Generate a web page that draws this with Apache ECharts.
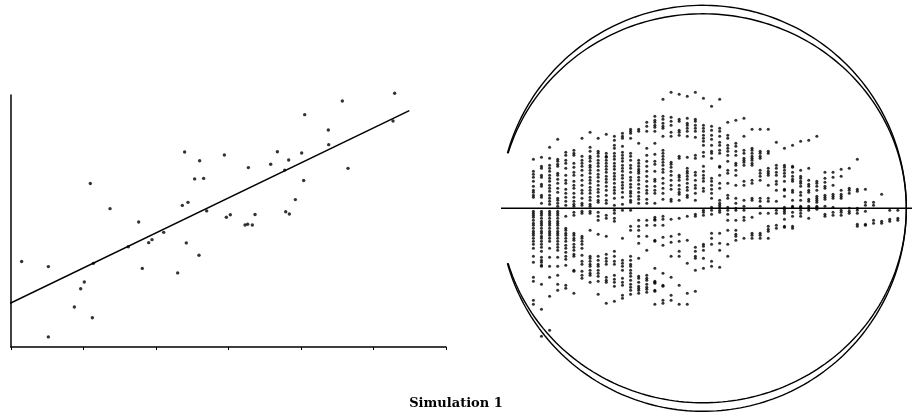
<!DOCTYPE html>
<html><head><meta charset="utf-8">
<script src="https://cdn.jsdelivr.net/npm/echarts@6/dist/echarts.min.js"></script>
<style>html,body{margin:0;padding:0;background:#fff}#c{width:912px;height:413px}</style>
</head><body><div id="c"></div>
<script>
// ---- Left panel: scatter with fitted line ----
const scatterX = [0.147,0.515,0.515,0.874,0.961,1.011,1.094,1.122,1.136,1.366,1.618,1.761,1.811,1.899,1.945,2.106,2.299,2.363,2.395,2.418,2.441,2.533,2.593,2.602,2.657,2.699,2.943,2.970,3.025,3.228,3.264,3.274,3.329,3.366,3.582,3.674,3.775,3.789,3.830,3.839,3.922,4.009,4.037,4.051,4.377,4.382,4.570,4.648,5.269,5.292];
const scatterY = [3.39,3.19,0.40,1.59,2.31,2.58,6.49,1.16,3.32,5.49,3.98,4.96,3.12,4.14,4.26,4.55,2.94,5.62,7.74,4.13,5.74,6.67,3.64,7.39,6.69,5.40,7.62,5.15,5.25,4.84,4.87,7.12,4.84,5.26,7.25,7.75,7.02,5.37,7.42,5.28,5.85,7.70,6.61,9.22,8.61,8.03,9.76,7.09,8.97,10.07];
const fitX = [-0.06, 5.494];
const fitY = [1.67, 9.38];
const xTicks = [0, 1, 2, 3, 4, 5, 6];

// ---- Right panel: columns of points (offset from the centre line) ----
const radialCols = [
[49,37,34,31,27,22,18,16,13,11,-3,-5,-7,-9,-12,-15,-17,-20,-23,-25,-27,-30,-33,-36,-40,-48,-54,-69,-73,-92,-96],
[51,42,40,33,31,24,22,13,11,5,-3,-5,-7,-10,-13,-15,-17,-20,-23,-25,-28,-30,-33,-36,-39,-43,-49,-52,-54,-57,-58,-76,-101,-128],
[61,50,43,40,37,33,30,27,23,20,17,13,10,7,4,-3,-5,-7,-10,-13,-15,-17,-20,-23,-25,-27,-30,-33,-40,-49,-58,-69,-88,-122],
[69,49,47,44,42,35,33,29,25,20,16,10,8,5,2,-3,-5,-7,-10,-13,-15,-17,-20,-23,-25,-27,-30,-33,-36,-39,-42,-49,-58,-67,-76,-82],
[56,53,48,45,40,33,28,25,19,15,11,7,3,-8,-20,-22,-25,-27,-30,-33,-37,-40,-44,-48,-51,-57,-77,-80],
[58,55,53,45,41,36,33,27,23,20,15,11,7,4,2,-4,-7,-25,-27,-30,-32,-36,-39,-42,-46,-48,-62,-63,-85],
[70,52,48,45,42,38,33,28,23,18,15,10,5,3,-3,-5,-28,-30,-33,-36,-40,-47,-53,-56,-63,-67,-70],
[76,61,57,52,50,47,43,41,38,35,31,28,25,21,18,15,11,8,4,2,-3,-5,-22,-48,-50,-53,-56,-58,-62,-65,-67,-74],
[70,57,55,52,48,45,42,38,34,31,27,23,19,16,12,8,6,-4,-8,-12,-26,-48,-52,-56,-58,-62,-65,-68,-73,-86],
[74,55,52,51,48,45,42,39,36,32,29,26,22,18,13,8,5,-7,-10,-28,-46,-50,-53,-56,-69,-72,-74,-95],
[72,68,63,60,55,52,49,45,42,39,35,32,29,25,21,18,15,10,3,-2,-5,-10,-13,-43,-48,-53,-56,-67,-71,-74,-78,-93],
[75,72,70,62,56,53,50,47,43,40,37,33,30,26,23,20,16,11,4,-2,-30,-52,-55,-58,-62,-70,-74,-77,-87,-90],
[79,77,75,70,55,52,48,43,40,36,31,28,24,21,17,15,12,8,6,-2,-18,-22,-48,-52,-56,-58,-62,-65,-68,-72,-76,-79,-82,-86],
[79,77,65,48,45,42,39,37,35,31,28,24,20,16,12,9,5,-12,-18,-22,-28,-35,-50,-68,-70,-74,-78,-80,-82,-85],
[86,82,77,60,53,47,42,37,32,27,22,18,15,9,5,-12,-17,-28,-42,-67,-70,-72,-76,-79,-81,-84],
[92,88,86,83,81,77,65,54,47,44,37,29,27,22,18,15,5,-9,-11,-12,-17,-32,-33,-60,-73,-74,-75,-82,-83,-96],
[109,92,89,85,82,80,72,58,55,52,49,46,43,39,36,30,25,20,15,9,-8,-11,-17,-29,-37,-65,-77,-78,-92,-95],
[116,91,87,83,76,72,46,44,41,37,33,28,23,19,9,7,-11,-28,-34,-48,-69,-87,-92],
[114,89,87,78,76,73,52,50,33,31,28,23,19,16,14,8,-10,-26,-33,-43,-48,-77,-96],
[112,90,85,83,80,77,72,51,40,37,35,32,29,25,21,18,13,11,-8,-32,-55,-85,-96],
[116,89,87,83,80,77,71,53,50,36,33,28,23,20,15,8,-6,-8,-39,-43,-48,-50,-62,-83],
[110,83,80,77,73,70,67,63,56,52,42,37,33,30,27,20,17,-2,-4,-7,-36,-38,-42,-50,-60],
[102,82,78,73,69,63,57,55,50,30,27,23,19,15,10,1,-2,-6,-25,-30,-36,-53,-58],
[109,80,77,72,66,63,58,55,42,41,33,25,20,8,5,3,1,-2,-4,-25,-35,-42,-59],
[86,73,70,63,60,57,53,47,38,35,25,13,10,1,-2,-6,-12,-22,-36,-48],
[88,65,62,57,53,45,43,38,33,23,10,5,0,-2,-12,-22,-26,-28,-32],
[90,72,58,55,50,48,46,43,27,23,8,2,-2,-9,-12,-30],
[79,60,58,55,52,50,48,45,43,28,25,10,8,-9,-25,-27,-30],
[79,57,55,52,50,38,35,32,28,10,7,2,-5,-25,-27,-30],
[79,57,55,40,37,35,33,23,10,7,-5,-18,-21,-23,-30],
[66,43,40,36,33,27,24,18,7,-2,-5,-17,-20],
[60,43,41,38,35,32,27,19,18,12,1,-1,-3,-5,-11,-18,-19],
[63,42,41,36,32,29,27,18,16,8,2,1,-4,-8,-18,-20],
[67,38,32,30,27,25,22,16,13,8,2,1,-2,-5,-8],
[68,40,28,24,22,18,16,9,7,2,0,-2,-10],
[72,27,25,22,18,12,10,8,6,2,1,-1],
[36,30,26,22,20,13,11,9,2,-6,-8],
[36,31,23,14,12,10,1,-4,-7],
[39,32,18,14,12,10,-2,-4,-7],
[40,20,18,15,0,-3,-5],
[49,19,17,0,-2,-5,-16,-18],
[19,6,3,-3,-16,-17],
[6,3,-12,-15],
[14,-13,-15],
[-2,-11,-13],
[-2,-10,-12]
];
const refLineX = [-3, 47.75];
const titleText = 'Simulation 1';

// ---- build ----
const scatterData = scatterX.map((x, i) => [x, scatterY[i]]);
const fitData = fitX.map((x, i) => [x, fitY[i]]);
const radialData = [];
radialCols.forEach((col, i) => col.forEach(v => radialData.push([i + 1, v])));

function arcSeries(cx, rx, ry, gap) {
  return {
    type: 'custom', xAxisIndex: 1, yAxisIndex: 1, silent: true, clip: false,
    data: [[cx, 0]],
    renderItem: function (params, api) {
      const t0 = Math.asin(gap / ry);
      const pts = [];
      const N = 240;
      for (let i = 0; i <= N; i++) {
        const th = Math.PI + t0 + (2 * Math.PI - 2 * t0) * i / N;
        pts.push(api.coord([cx + rx * Math.cos(th), ry * Math.sin(th)]));
      }
      return { type: 'polyline', shape: { points: pts }, style: { stroke: '#000', lineWidth: 1.4, fill: null } };
    }
  };
}

const chart = echarts.init(document.getElementById('c'));
chart.setOption({
  animation: false,
  backgroundColor: '#fff',
  title: {
    text: titleText, left: 'center', top: 392,
    textStyle: { fontFamily: 'DejaVu Serif', fontWeight: 'bold', fontSize: 13, color: '#000' }
  },
  grid: [
    { left: 11, top: 95, width: 435, height: 252 },
    { left: 501, top: 5.8, width: 411.1, height: 405 }
  ],
  xAxis: [
    { gridIndex: 0, type: 'value', min: xTicks[0], max: xTicks[xTicks.length - 1], interval: 1,
      axisLine: { lineStyle: { color: '#000', width: 1.5 } },
      axisTick: { show: true, length: 3, lineStyle: { color: '#000', width: 1 } },
      axisLabel: { show: false }, splitLine: { show: false } },
    { gridIndex: 1, type: 'value', min: -3, max: 47.75, show: false }
  ],
  yAxis: [
    { gridIndex: 0, type: 'value', min: 0, max: 10,
      axisLine: { show: true, lineStyle: { color: '#000', width: 1.5 } },
      axisTick: { show: false }, axisLabel: { show: false }, splitLine: { show: false } },
    { gridIndex: 1, type: 'value', min: -202.5, max: 202.5, show: false }
  ],
  series: [
    { type: 'line', xAxisIndex: 0, yAxisIndex: 0, data: fitData, symbol: 'none', clip: false,
      lineStyle: { color: '#000', width: 1.5 } },
    { type: 'scatter', xAxisIndex: 0, yAxisIndex: 0, data: scatterData, symbol: 'circle', symbolSize: 3.4,
      itemStyle: { color: '#000' }, clip: false },
    arcSeries(21.95, 25.1, 203, 55),
    arcSeries(21.95, 25.1, 194.5, 55),
    { type: 'line', xAxisIndex: 1, yAxisIndex: 1, data: refLineX.map(x => [x, 0]), symbol: 'none', clip: false,
      lineStyle: { color: '#000', width: 1.5 } },
    { type: 'scatter', xAxisIndex: 1, yAxisIndex: 1, data: radialData, symbol: 'circle', symbolSize: 3,
      itemStyle: { color: '#000' }, clip: false }
  ]
});
</script>
</body></html>
